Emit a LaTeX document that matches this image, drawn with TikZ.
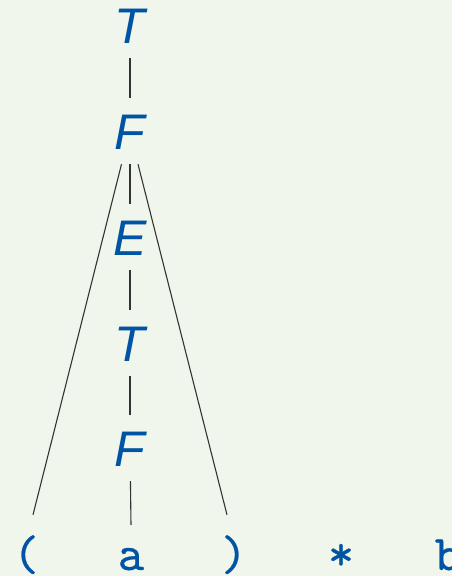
\documentclass[tikz,border=0pt]{standalone}
\usepackage{fontspec}
\newfontfamily\lblfont{Liberation Sans}
\newfontface\tokfont{lmmono10-regular.otf}[FakeBold=0.5]
\definecolor{bgc}{RGB}{240,246,236}
\definecolor{tblue}{RGB}{0,84,164}
\begin{document}
\begin{tikzpicture}[x=1pt,y=-1pt,
  nt/.style={text=tblue, font=\lblfont\itshape\fontsize{50}{50}\selectfont, text height=36pt, text depth=0pt, inner sep=15pt},
  tok/.style={text=tblue, font=\tokfont\fontsize{50}{50}\selectfont, anchor=base, inner sep=0pt, text height=35pt, text depth=4pt},
  edge/.style={draw=black!80, line width=1.1pt}]
\fill[bgc] (0,0) rectangle (452,576);
\useasboundingbox (0,0) rectangle (452,576);
\node[nt] (T1) at (130,25) {T};
\node[nt] (F1) at (130,131) {F};
\node[nt] (E) at (130,237) {E};
\node[nt] (T2) at (130,343) {T};
\node[nt] (F2) at (130,448) {F};
\node[tok] (lp) at (26,570) {(};
\node[tok] (a) at (131,570) {a};
\node[tok] (rp) at (234,570) {)};
\node[tok] (st) at (341,570) {*};
\node[tok] (b) at (448,570) {b};
\draw[edge] (T1) -- (F1);
\draw[edge] (F1) -- (E);
\draw[edge] (E) -- (T2);
\draw[edge] (T2) -- (F2);
\draw[edge] (F2) -- ([yshift=10pt]a.north);
\draw[edge] ([xshift=-8.5pt]F1.south) -- ([xshift=7pt,yshift=20pt]lp.north);
\draw[edge] ([xshift=8pt]F1.south) -- ([xshift=-7pt,yshift=20pt]rp.north);
\end{tikzpicture}
\end{document}
